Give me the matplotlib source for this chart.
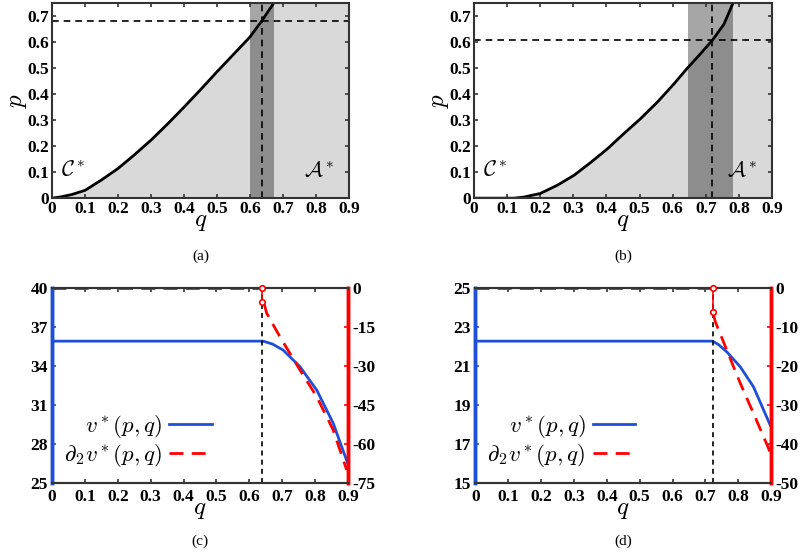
import matplotlib
matplotlib.use('Agg')
import matplotlib.pyplot as plt

plt.rcParams['font.family'] = ['Liberation Serif', 'DejaVu Serif']
plt.rcParams['mathtext.fontset'] = 'cm'

# panel (a): boundary curve p(q)
qa = [0.0, 0.027, 0.06, 0.1, 0.15, 0.2, 0.25, 0.3, 0.35, 0.4, 0.45, 0.5, 0.55, 0.6, 0.636, 0.672]
pa = [0.0, 0.005, 0.014, 0.03, 0.07, 0.114, 0.167, 0.223, 0.285, 0.35, 0.417, 0.486, 0.553, 0.62, 0.682, 0.75]
band_a = (0.599, 0.674)
cross_a = (0.636, 0.681)

# panel (b)
qb = [0.0, 0.12, 0.15, 0.2, 0.252, 0.302, 0.352, 0.403, 0.453, 0.503, 0.554, 0.604, 0.644, 0.68, 0.72, 0.755, 0.782]
pb = [0.0, 0.0, 0.004, 0.018, 0.05, 0.088, 0.137, 0.19, 0.249, 0.306, 0.37, 0.44, 0.5, 0.55, 0.608, 0.67, 0.75]
band_b = (0.647, 0.782)
cross_b = (0.72, 0.608)

# panel (c): v* and d2 v*
qc_v = [0.0, 0.642, 0.67, 0.703, 0.754, 0.805, 0.855, 0.9]
vc = [35.92, 35.92, 35.7, 35.23, 33.95, 32.15, 29.6, 26.45]
qc_d = [0.645, 0.653, 0.693, 0.754, 0.805, 0.855, 0.896]
dc = [-6.0, -9.7, -18.7, -31.5, -41.8, -54.6, -70.0]
qc_jump = 0.6375
dc_jump = [0.0, -5.3]

# panel (d)
qd_v = [0.0, 0.722, 0.74, 0.765, 0.806, 0.846, 0.897]
vd = [22.28, 22.28, 22.1, 21.73, 20.96, 19.94, 17.97]
qd_d = [0.725, 0.730, 0.765, 0.806, 0.846, 0.892, 0.9]
dd = [-7.0, -8.6, -15.9, -24.4, -32.1, -41.1, -43.0]
qd_jump = 0.7216
dd_jump = [0.0, -6.1]

q_ticks = [0, 0.1, 0.2, 0.3, 0.4, 0.5, 0.6, 0.7, 0.8, 0.9]
p_ticks = [0, 0.1, 0.2, 0.3, 0.4, 0.5, 0.6, 0.7]

spine_col = '#333333'
light = '#d9d9d9'
blue = '#1f4fd6'
red = '#ff0000'
tick_font = dict(fontsize=12.5, fontweight='bold')

fig = plt.figure(figsize=(8, 5.52), dpi=100)


def fmt(v):
    return '0' if v == 0 else f'{v:g}'


def top_panel(rect, q, p, band, cross, tag):
    ax = fig.add_axes(rect)
    ax.fill_between(q + [0.9], p + [0.75], 0, color=light, lw=0)
    ax.axvspan(band[0], band[1], color='k', alpha=0.35, lw=0)
    ax.plot(q, p, color='k', lw=2)
    ax.axhline(cross[1], color='k', ls=(0, (4, 3)), lw=1.2)
    ax.axvline(cross[0], color='k', ls=(0, (4, 3)), lw=1.2)
    ax.set_xlim(0, 0.9)
    ax.set_ylim(0, 0.75)
    ax.set_xticks(q_ticks)
    ax.set_xticklabels([fmt(t) for t in q_ticks], **tick_font)
    ax.set_yticks(p_ticks)
    ax.set_yticklabels([fmt(t) for t in p_ticks], **tick_font)
    ax.tick_params(direction='in', top=True, right=True, length=3, width=1.2,
                   color=spine_col, pad=2)
    for s in ax.spines.values():
        s.set_color(spine_col)
        s.set_linewidth(1.5)
    ax.set_xlabel('$q$', fontsize=18, labelpad=-4)
    ax.set_ylabel('$p$', fontsize=18, labelpad=-1)
    ax.text(0.065, 0.1, r'$\mathcal{C}^*$', fontsize=16, va='center', ha='center')
    ax.text(0.81, 0.1, r'$\mathcal{A}^*$', fontsize=16, va='center', ha='center')
    ax.text(0.5, -0.3, tag, transform=ax.transAxes, ha='center', va='center', fontsize=11)
    return ax


def bottom_panel(rect, qv, v, qd, d, qj, dj, vlim, vticks, dlim, dticks, tag):
    ax = fig.add_axes(rect)
    ax2 = ax.twinx()
    ax.plot(qv, v, color=blue, lw=2, label=r'$v^*(p,q)$')
    ax2.plot([0, qj], [0, 0], color=red, ls=(0, (5, 3)), lw=2, clip_on=False)
    ax2.plot([qj, qj], dj, color=red, lw=1.2, marker='o', ms=4,
             mfc='white', mec=red, mew=1.2, clip_on=False, zorder=5)
    ax2.plot(qd, d, color=red, ls=(0, (5, 3)), lw=2)
    ax.plot([], [], color=red, ls=(0, (5, 3)), lw=2, label=r'$\partial_2 v^*(p,q)$')
    ax.axvline(qj, color='k', ls=(0, (3, 2.5)), lw=1.2)
    ax.set_xlim(0, 0.9)
    ax.set_ylim(*vlim)
    ax2.set_ylim(*dlim)
    ax.set_xticks(q_ticks)
    ax.set_xticklabels([fmt(t) for t in q_ticks], **tick_font)
    ax.set_yticks(vticks)
    ax.set_yticklabels([str(t) for t in vticks], **tick_font)
    ax2.set_yticks(dticks)
    ax2.set_yticklabels([str(t) for t in dticks], **tick_font)
    ax.tick_params(axis='x', direction='in', top=True, length=3, width=1.2,
                   color=spine_col, pad=4)
    ax.tick_params(axis='y', direction='in', length=3, width=1.2, color=blue, pad=3)
    ax2.tick_params(axis='y', direction='in', length=3, width=1.2, color=red, pad=3)
    for a in (ax, ax2):
        a.spines['top'].set_color(spine_col)
        a.spines['bottom'].set_color(spine_col)
        a.spines['top'].set_linewidth(1.5)
        a.spines['bottom'].set_linewidth(1.5)
        a.spines['left'].set_color(blue)
        a.spines['left'].set_linewidth(2.5)
        a.spines['right'].set_color(red)
        a.spines['right'].set_linewidth(2.5)
    ax.set_xlabel('$q$', fontsize=18, labelpad=-4)
    ax.legend(loc='lower right', bbox_to_anchor=(0.54, 0.07), frameon=False,
              markerfirst=False, fontsize=16.5, handlelength=1.85,
              handletextpad=0.3, labelspacing=0.1, borderpad=0, borderaxespad=0)
    ax.text(0.5, -0.3, tag, transform=ax.transAxes, ha='center', va='center', fontsize=11)
    return ax


top_panel([0.065, 0.641, 0.371, 0.353], qa, pa, band_a, cross_a, '(a)')
top_panel([0.5925, 0.641, 0.3725, 0.353], qb, pb, band_b, cross_b, '(b)')
bottom_panel([0.065, 0.125, 0.37, 0.353], qc_v, vc, qc_d, dc, qc_jump, dc_jump,
             (25, 40), [25, 28, 31, 34, 37, 40], (-75, 0), [-75, -60, -45, -30, -15, 0], '(c)')
bottom_panel([0.594, 0.125, 0.37, 0.353], qd_v, vd, qd_d, dd, qd_jump, dd_jump,
             (15, 25), [15, 17, 19, 21, 23, 25], (-50, 0), [-50, -40, -30, -20, -10, 0], '(d)')

fig.savefig('out.png', dpi=100)
